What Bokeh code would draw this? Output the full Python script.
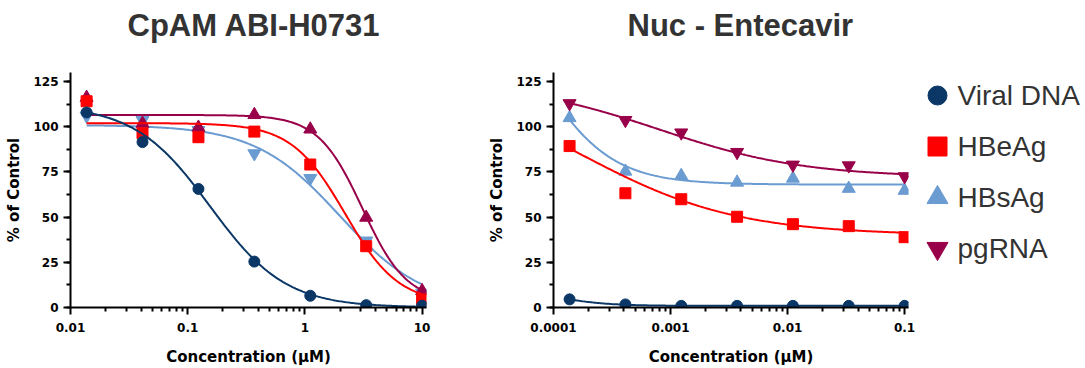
import numpy as np
from bokeh.plotting import figure
from bokeh.models import (Range1d, FixedTicker, SingleIntervalTicker,
                          CustomJSTickFormatter)
from bokeh.core.properties import value
from bokeh.layouts import row
from bokeh.embed import file_html
from bokeh.resources import INLINE

# ---------------- data ----------------
series_names = ["Viral DNA", "HBeAg", "HBsAg", "pgRNA"]
series_colors = ["#0a3766", "#ff0000", "#6a9bd1", "#99004a"]

# CpAM ABI-H0731, 3-fold dilutions (µM)
cpam_conc = [0.01372, 0.04115, 0.1235, 0.3704, 1.111, 3.333, 10.0]
cpam_viral_dna = [107.9, 91.5, 65.6, 25.4, 6.5, 1.3, 1.0]
cpam_hbeag = [114.1, 96.4, 94.2, 97.3, 79.1, 33.9, 4.4]
cpam_hbsag = [106.0, 103.6, 98.0, 85.2, 71.5, 36.9, 8.0]
cpam_pgrna = [116.1, 101.8, 99.6, 106.6, 98.6, 49.8, 9.2]

# four-parameter logistic fits: top, bottom, IC50 (µM), Hill slope
cpam_fit_viral_dna = [112.0, 0.0, 0.155, 1.35]
cpam_fit_hbeag = [102.0, 2.0, 2.2, 1.9]
cpam_fit_hbsag = [101.0, 0.0, 2.0, 1.2]
cpam_fit_pgrna = [106.5, 3.0, 3.1, 2.3]

# Entecavir, 3-fold dilutions (µM)
etv_conc = [0.0001372, 0.0004115, 0.001235, 0.003704, 0.01111, 0.03333, 0.1]
etv_viral_dna = [4.5, 1.7, 0.9, 0.9, 0.9, 0.9, 0.9]
etv_hbeag = [89.3, 63.2, 59.9, 50.2, 46.1, 45.0, 38.9]
etv_hbsag = [104.9, 75.3, 72.9, 69.2, 71.4, 65.8, 64.7]
etv_pgrna = [112.9, 103.6, 96.7, 85.9, 78.9, 78.5, 72.5]

etv_fit_viral_dna = [10.0, 0.9, 0.000111, 2.0]
etv_fit_hbeag = [130.0, 40.0, 0.000168, 0.65]
etv_fit_hbsag = [200.0, 68.0, 0.0000662, 1.35]
etv_fit_pgrna = [125.0, 72.0, 0.0008, 0.7]

cpam_x_ticks = [0.01, 0.1, 1, 10]
cpam_x_labels = ["0.01", "0.1", "1", "10"]
etv_x_ticks = [0.0001, 0.001, 0.01, 0.1]
etv_x_labels = ["0.0001", "0.001", "0.01", "0.1"]

titles = ["CpAM ABI-H0731", "Nuc - Entecavir"]
x_label = "Concentration (µM)"
y_label = "% of Control"

TITLE_FONT = "Liberation Sans"
AXIS_FONT = "DejaVu Sans"

# shared frame placement (pixels)
FRAME_TOP, FRAME_BOTTOM, PAGE_H = 72, 307, 368


def logistic_curve(conc, fit, n=240):
    top, bottom, ic50, hill = fit
    xs = np.logspace(np.log10(conc[0]), np.log10(conc[-1]), n)
    ys = bottom + (top - bottom) / (1.0 + (xs / ic50) ** hill)
    return xs, ys


def make_panel(title, x_start, x_end, x_ticks, x_labels, width,
               border_right, title_offset):
    p = figure(width=width, height=PAGE_H, x_axis_type="log",
               x_range=Range1d(x_start, x_end), y_range=Range1d(0, 130),
               output_backend="svg", toolbar_location=None,
               min_border_left=70, min_border_right=border_right,
               min_border_top=FRAME_TOP,
               min_border_bottom=PAGE_H - FRAME_BOTTOM,
               title=title)
    p.outline_line_color = None
    p.grid.visible = False
    p.background_fill_color = "white"
    p.border_fill_color = "white"

    t = p.title
    t.align = "left"
    t.offset = title_offset
    t.standoff = 0
    t.padding = dict(left=0, right=0, top=0, bottom=30)
    t.text_font = TITLE_FONT
    t.text_font_size = "31px"
    t.text_font_style = "bold"
    t.text_color = "#333333"

    minor = [m * d for d in x_ticks[:-1] for m in range(2, 10)]
    p.xaxis.ticker = FixedTicker(ticks=x_ticks, minor_ticks=minor)
    p.xaxis.formatter = CustomJSTickFormatter(
        args=dict(vals=x_ticks, labels=x_labels),
        code="const i = vals.indexOf(tick); return i >= 0 ? labels[i] : '';")
    p.yaxis.ticker = SingleIntervalTicker(interval=25, num_minor_ticks=2)

    for ax in (p.xaxis, p.yaxis):
        ax.axis_line_width = 2
        ax.axis_line_color = "black"
        ax.major_tick_line_width = 2
        ax.major_tick_line_color = "black"
        ax.minor_tick_line_width = 2
        ax.minor_tick_line_color = "black"
        ax.major_tick_in = 0
        ax.major_tick_out = 7
        ax.minor_tick_in = 0
        ax.minor_tick_out = 4
        ax.major_label_text_font = AXIS_FONT
        ax.major_label_text_font_style = "bold"
        ax.major_label_text_font_size = "12px"
        ax.major_label_text_color = "black"
        ax.axis_label_text_font = AXIS_FONT
        ax.axis_label_text_font_style = "bold"
        ax.axis_label_text_font_size = "15px"
        ax.axis_label_text_color = "black"
    p.xaxis.axis_label = x_label
    p.yaxis.axis_label = y_label
    p.xaxis.major_label_standoff = 8
    p.xaxis.axis_label_standoff = 13
    p.yaxis.major_label_standoff = 5
    p.yaxis.axis_label_standoff = 7
    return p


def add_series(p, conc, values, fit, color, marker, size):
    xs, ys = logistic_curve(conc, fit)
    p.line(xs, ys, line_color=color, line_width=2)
    return p.scatter(conc, values, marker=marker, size=size,
                     fill_color=color, line_color=color)


# ---------------- left panel ----------------
p1 = make_panel(titles[0], 0.01, 10.9, cpam_x_ticks, cpam_x_labels,
                483, 57, 57)
add_series(p1, cpam_conc, cpam_hbsag, cpam_fit_hbsag, series_colors[2],
           "inverted_triangle", 13)
add_series(p1, cpam_conc, cpam_pgrna, cpam_fit_pgrna, series_colors[3],
           "triangle", 13)
add_series(p1, cpam_conc, cpam_hbeag, cpam_fit_hbeag, series_colors[1],
           "square", 11)
add_series(p1, cpam_conc, cpam_viral_dna, cpam_fit_viral_dna,
           series_colors[0], "circle", 11)

# ---------------- right panel ----------------
p2 = make_panel(titles[1], 0.0001, 0.108, etv_x_ticks, etv_x_labels,
                433, 8, 74)
add_series(p2, etv_conc, etv_hbsag, etv_fit_hbsag, series_colors[2],
           "triangle", 13)
add_series(p2, etv_conc, etv_pgrna, etv_fit_pgrna, series_colors[3],
           "inverted_triangle", 13)
add_series(p2, etv_conc, etv_hbeag, etv_fit_hbeag, series_colors[1],
           "square", 11)
add_series(p2, etv_conc, etv_viral_dna, etv_fit_viral_dna,
           series_colors[0], "circle", 11)

# ---------------- legend column ----------------
# its frame shares the panels' top/bottom, so the y range is set in
# page pixels (downward) over that same span
LEGEND_W = 169
p3 = figure(width=LEGEND_W, height=PAGE_H, output_backend="svg",
            toolbar_location=None, x_axis_location=None,
            y_axis_location=None, min_border_left=0, min_border_right=0,
            min_border_top=FRAME_TOP, min_border_bottom=PAGE_H - FRAME_BOTTOM,
            x_range=Range1d(0, LEGEND_W),
            y_range=Range1d(FRAME_BOTTOM, FRAME_TOP))
p3.outline_line_color = None
p3.grid.visible = False
p3.background_fill_color = "white"
p3.border_fill_color = "white"

legend_markers = ["circle", "square", "triangle", "inverted_triangle"]
legend_sizes = [19, 19, 21, 21]
key_x, text_x, row_top, row_step = 21, 41, 95, 51
row_y = [row_top + i * row_step for i in range(len(series_names))]
p3.scatter(x=[key_x] * len(series_names), y=row_y, marker=legend_markers,
           size=legend_sizes, fill_color=series_colors,
           line_color=series_colors)
p3.text(x=[text_x] * len(series_names), y=row_y, text=series_names,
        text_font=value(TITLE_FONT), text_font_size="28px",
        text_color="#333333", text_baseline="middle", text_align="left")

layout = row(p1, p2, p3)
open("out.html", "w").write(file_html(layout, INLINE))
